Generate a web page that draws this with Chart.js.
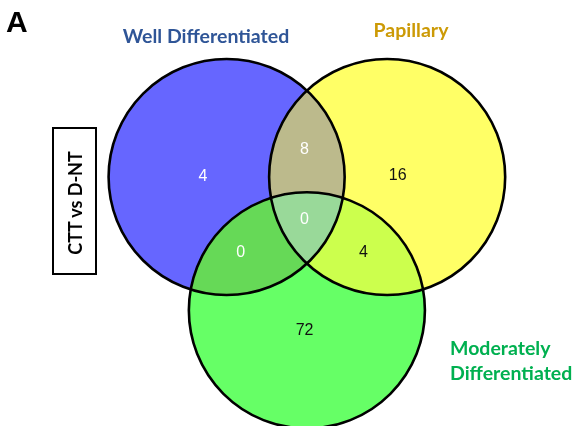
<!DOCTYPE html>
<html>
<head>
<meta charset="utf-8">
<script src="https://cdn.jsdelivr.net/npm/chart.js@4.4.1/dist/chart.umd.min.js"></script>
<style>
    body { margin: 0; background: #fff; }
    #wrap { position: relative; width: 576px; height: 426px; overflow: hidden; }
    #venn { position: absolute; left: 0; top: 0; }
    .lbl { position: absolute; font-family: Lato, "Open Sans", sans-serif; font-weight: bold; font-size: 19.5px; line-height: 1; white-space: nowrap; }
    #panel { position: absolute; left: 6px; top: 6.6px; font-family: "Liberation Sans", Arial, sans-serif; font-weight: bold; font-size: 30px; line-height: 1; }
    #side { position: absolute; left: 52px; top: 127px; width: 41px; height: 144px; border: 2px solid #000; }
    #sideText { position: absolute; left: 75px; top: 203px; transform: translate(-50%, -50%) rotate(-90deg); font-family: Lato, sans-serif; font-weight: bold; font-size: 18px; line-height: 1; white-space: nowrap; }
</style>
</head>
<body>
<div id="wrap">
    <canvas id="venn" width="576" height="426"></canvas>
    <div id="panel">A</div>
    <div class="lbl" id="setA" style="left:206px; top:25.7px; transform:translateX(-50%); color:#2f5597;"></div>
    <div class="lbl" id="setB" style="left:411px; top:19.7px; transform:translateX(-50%); color:#cc9a06;"></div>
    <div class="lbl" id="setC" style="left:450px; top:335px; line-height:25px; color:#00b050;"></div>
    <div id="side"></div>
    <div id="sideText">CTT vs D-NT</div>
</div>
<script>
'use strict';

// Ensembles et disposition des cercles (unités du repère, rayon = 1)
const setNames = ['Well Differentiated', 'Papillary', 'Moderately Differentiated'];
const centerX = [0, 1.36, 0.68];
const centerY = [0, 0, -1.13];
const radii = [1, 1, 1];

// Effectifs de chaque zone : A seul, A∩B, B seul, A∩B∩C, A∩C, B∩C, C seul
const regionCounts = [4, 8, 16, 0, 0, 4, 72];
const regionX = [-0.20, 0.66, 1.45, 0.66, 0.12, 1.16, 0.66];
const regionY = [0, 0.23, 0.01, -0.36, -0.64, -0.64, -1.30];

const circleColors = ['#6666ff', '#ffff66', '#66ff66'];
const labelColors = ['#fff', '#fff', '#111', '#fff', '#fff', '#111', '#111'];

// Couleurs des intersections (peintes par-dessus les cercles)
const overlaps = [
    { sets: [0, 1], color: '#bcba8c' },
    { sets: [0, 2], color: '#66d957' },
    { sets: [1, 2], color: '#ccff4d' },
    { sets: [0, 1, 2], color: '#99d999' }
];

document.getElementById('setA').textContent = setNames[0];
document.getElementById('setB').textContent = setNames[1];
document.getElementById('setC').innerHTML = setNames[2].replace(' ', '<br>');

// Rayon en pixels à partir de l'échelle x
function radiusPx(ctx) {
    const sx = ctx.chart.scales.x;
    const r = radii[ctx.datasetIndex];
    return Math.abs(sx.getPixelForValue(r) - sx.getPixelForValue(0));
}

const vennPlugin = {
    id: 'vennRegions',
    afterDatasetsDraw(chart) {
        const ctx = chart.ctx;
        const area = chart.chartArea;
        const circles = chart.data.datasets.map((ds, i) => {
            const el = chart.getDatasetMeta(i).data[0];
            return { x: el.x, y: el.y, r: el.options.radius };
        });

        overlaps.forEach(o => {
            ctx.save();
            o.sets.forEach(i => {
                ctx.beginPath();
                ctx.arc(circles[i].x, circles[i].y, circles[i].r, 0, Math.PI * 2);
                ctx.clip();
            });
            ctx.fillStyle = o.color;
            ctx.fillRect(0, 0, chart.width, chart.height);
            ctx.restore();
        });

        // Contours noirs
        ctx.save();
        ctx.strokeStyle = '#000';
        ctx.lineWidth = 2.6;
        circles.forEach(c => {
            ctx.beginPath();
            ctx.arc(c.x, c.y, c.r, 0, Math.PI * 2);
            ctx.stroke();
        });
        ctx.restore();

        // Effectifs
        const sx = chart.scales.x;
        const sy = chart.scales.y;
        ctx.save();
        ctx.font = '16px "Liberation Sans", Arial, sans-serif';
        ctx.textAlign = 'center';
        ctx.textBaseline = 'middle';
        regionCounts.forEach((n, i) => {
            ctx.fillStyle = labelColors[i];
            ctx.fillText(String(n), sx.getPixelForValue(regionX[i]), sy.getPixelForValue(regionY[i]));
        });
        ctx.restore();
    }
};

const chartConfig = {
    type: 'scatter',
    data: {
        datasets: setNames.map((name, i) => ({
            label: name,
            data: [{ x: centerX[i], y: centerY[i] }],
            pointRadius: radiusPx,
            pointBackgroundColor: circleColors[i],
            pointBorderWidth: 0,
            clip: false
        }))
    },
    options: {
        responsive: false,
        animation: false,
        events: [],
        layout: { padding: 0 },
        plugins: {
            legend: { display: false },
            tooltip: { enabled: false }
        },
        scales: {
            x: { type: 'linear', min: -1.92, max: 2.96, display: false },
            y: { type: 'linear', min: -2.11, max: 1.50, display: false }
        }
    },
    plugins: [vennPlugin]
};

new Chart(document.getElementById('venn'), chartConfig);
</script>
</body>
</html>
